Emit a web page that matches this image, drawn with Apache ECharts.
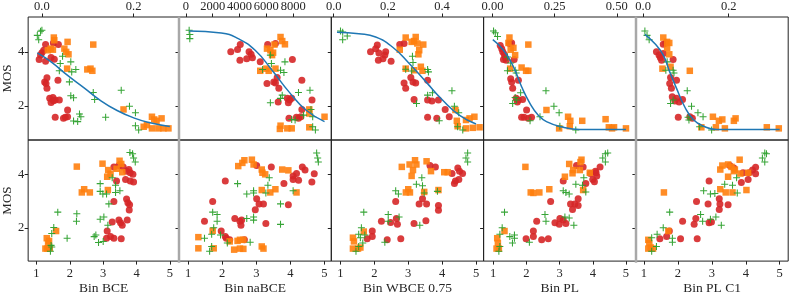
<!DOCTYPE html>
<html><head><meta charset="utf-8">
<script src="https://cdn.jsdelivr.net/npm/echarts@6/dist/echarts.min.js"></script>
<style>html,body{margin:0;padding:0;background:#fff}#c{width:789px;height:296px}</style>
</head><body><div id="c"></div>
<script>
// ---------- top row: raw metric vs MOS ----------
const t1Red=[[0.008,4.28],[0.004,4.07],[0.000,3.98],[-0.003,3.89],[-0.006,3.73],[0.008,3.66],[0.020,3.80],[0.027,3.74],[0.025,4.34],[0.036,4.28],[0.006,2.90],[0.009,2.84],[0.011,3.05],[0.011,2.66],[0.035,2.96],[0.017,2.29],[0.024,2.32],[0.020,2.14],[0.025,2.20],[0.029,2.23],[0.038,2.23],[0.056,1.86],[0.056,1.61],[0.051,1.59],[0.047,1.55],[0.029,1.59]];
const t1Orange=[[0.026,4.54],[0.027,4.44],[0.019,4.13],[0.013,4.07],[0.024,4.09],[0.049,4.13],[0.056,4.38],[0.058,3.92],[0.053,4.01],[0.055,3.39],[0.099,3.36],[0.106,3.39],[0.110,3.31],[0.112,4.28],[0.178,1.88],[0.240,1.61],[0.245,1.51],[0.250,1.46],[0.261,1.55],[0.222,1.24],[0.229,1.30],[0.240,1.18],[0.254,1.18],[0.265,1.18],[0.276,1.18]];
const t1Green=[[-0.010,4.62],[-0.007,4.46],[-0.003,4.77],[0.000,4.81],[0.040,3.58],[0.045,3.85],[0.063,3.64],[0.065,3.27],[0.074,3.36],[0.038,3.31],[0.060,2.90],[0.063,2.39],[0.069,2.31],[0.069,1.45],[0.078,1.43],[0.082,1.71],[0.085,1.61],[0.112,2.51],[0.115,2.25],[0.139,1.59],[0.173,2.59],[0.191,2.00],[0.204,1.76],[0.204,1.28],[0.211,1.12]];
const t1Fit=[[-0.010,3.97],[0.020,3.64],[0.056,3.14],[0.092,2.68],[0.128,2.21],[0.164,1.84],[0.200,1.57],[0.236,1.39],[0.279,1.25]];

const t2Red=[[3352,4.01],[3856,4.10],[4057,4.28],[4032,3.70],[4536,3.76],[4712,4.01],[4864,3.92],[4964,3.79],[5544,3.64],[6098,4.28],[6678,4.32],[7938,3.73],[6552,2.90],[6804,3.06],[6048,2.84],[6678,2.86],[6930,2.66],[8644,2.96],[7560,2.29],[7736,2.23],[7636,2.13],[7888,2.29],[6880,2.16],[9400,2.23],[8644,1.88],[8568,1.61],[8392,1.55],[7686,1.55],[8240,1.59]];
const t2Orange=[[7056,4.56],[7182,4.41],[7384,4.29],[6602,4.28],[6048,4.13],[6300,4.07],[6502,3.98],[6426,3.89],[5544,3.31],[5998,3.39],[6174,3.31],[6678,3.39],[9198,1.88],[9198,1.73],[10332,1.61],[7056,1.28],[7006,1.16],[7560,1.18],[7888,1.18],[9198,1.22]];
const t2Green=[[252,4.81],[302,4.65],[302,4.50],[6300,3.89],[6376,3.58],[7384,3.64],[7056,3.33],[7308,3.25],[5720,3.36],[7182,2.41],[7056,2.29],[6300,2.13],[8392,2.51],[9248,2.59],[9324,1.88],[8770,1.67],[9450,1.61],[8140,1.49],[7888,1.51],[9450,1.24],[9652,1.12]];
const t2Fit=[[252,4.78],[2646,4.71],[3906,4.50],[5166,4.07],[6426,3.33],[7686,2.53],[8946,1.86],[10332,1.43]];

const t3Red=[[0.161,4.26],[0.155,4.13],[0.136,4.01],[0.167,3.97],[0.192,4.01],[0.189,3.89],[0.182,3.76],[0.165,3.70],[0.212,3.66],[0.244,4.28],[0.260,4.32],[0.285,3.06],[0.293,2.90],[0.260,2.86],[0.266,2.66],[0.303,2.86],[0.347,2.96],[0.297,2.25],[0.347,2.23],[0.363,2.19],[0.387,2.23],[0.412,1.88],[0.427,1.61],[0.347,1.59],[0.381,1.55]];
const t3Orange=[[0.266,4.54],[0.303,4.56],[0.297,4.41],[0.288,4.38],[0.309,4.32],[0.331,4.28],[0.244,4.09],[0.316,4.07],[0.313,3.92],[0.266,3.39],[0.322,3.46],[0.328,3.31],[0.297,3.33],[0.450,1.86],[0.455,1.46],[0.489,1.49],[0.520,1.61],[0.502,1.55],[0.458,1.26],[0.489,1.18],[0.514,1.20],[0.539,1.22]];
const t3Green=[[0.025,4.78],[0.033,4.74],[0.050,4.60],[0.033,4.46],[0.291,3.85],[0.293,3.62],[0.266,3.37],[0.288,3.30],[0.347,3.36],[0.350,3.27],[0.347,2.41],[0.365,2.50],[0.306,2.10],[0.437,2.57],[0.446,2.00],[0.462,1.76],[0.390,1.46],[0.458,1.24],[0.477,1.12]];
const t3Fit=[[0.012,4.74],[0.093,4.68],[0.155,4.56],[0.217,4.19],[0.279,3.58],[0.341,2.90],[0.402,2.23],[0.464,1.67],[0.526,1.34]];

const t4Red=[[0.031,4.25],[0.037,4.13],[0.041,4.01],[0.047,3.92],[0.051,3.80],[0.055,3.70],[0.044,3.73],[0.068,4.32],[0.077,4.34],[0.087,3.73],[0.077,2.90],[0.073,3.02],[0.081,2.66],[0.104,2.96],[0.095,2.29],[0.100,2.16],[0.104,2.23],[0.121,2.25],[0.137,1.86],[0.117,1.59],[0.127,1.59],[0.144,1.55],[0.157,1.59]];
const t4Orange=[[0.068,4.54],[0.064,4.34],[0.084,4.16],[0.091,3.89],[0.073,4.09],[0.144,4.28],[0.071,3.39],[0.117,3.43],[0.135,3.31],[0.144,3.31],[0.217,1.86],[0.304,1.61],[0.313,1.46],[0.361,1.46],[0.455,1.52],[0.268,1.18],[0.311,1.26],[0.468,1.22],[0.481,1.18],[0.489,1.22],[0.537,1.18]];
const t4Green=[[0.004,4.78],[0.011,4.72],[0.020,4.58],[0.060,3.82],[0.073,3.60],[0.060,3.31],[0.091,3.33],[0.095,3.23],[0.113,2.50],[0.091,2.32],[0.097,2.23],[0.081,2.10],[0.215,2.57],[0.247,2.00],[0.268,1.76],[0.191,1.61],[0.151,1.46],[0.271,1.26],[0.335,1.12]];
const t4Fit=[[0.001,4.46],[0.044,4.07],[0.084,3.46],[0.117,2.72],[0.151,2.10],[0.184,1.67],[0.217,1.43],[0.284,1.22],[0.351,1.14],[0.537,1.14]];

const t5Red=[[0.047,4.29],[0.053,4.34],[0.031,4.01],[0.037,3.89],[0.040,3.80],[0.043,3.70],[0.070,3.73],[0.047,3.95],[0.064,3.06],[0.078,2.96],[0.062,2.84],[0.066,2.66],[0.068,2.35],[0.078,2.29],[0.084,2.16],[0.074,2.19],[0.092,2.25],[0.082,1.59],[0.109,1.61],[0.115,1.55]];
const t5Orange=[[0.047,4.54],[0.056,4.38],[0.061,4.34],[0.056,4.16],[0.061,3.92],[0.045,3.39],[0.064,3.46],[0.109,3.31],[0.163,1.61],[0.177,1.46],[0.185,1.51],[0.212,1.46],[0.216,1.55],[0.136,1.22],[0.170,1.22],[0.191,1.18],[0.289,1.22],[0.317,1.18]];
const t5Green=[[0.004,4.78],[0.009,4.62],[0.014,4.46],[0.056,3.64],[0.053,3.33],[0.070,3.33],[0.072,3.23],[0.103,2.57],[0.070,2.23],[0.064,2.10],[0.113,2.00],[0.128,1.76],[0.140,1.61],[0.107,1.49],[0.105,1.59],[0.132,1.24],[0.160,1.12]];
const t5Fit=[[0.004,4.66],[0.027,4.32],[0.047,3.89],[0.062,3.27],[0.078,2.66],[0.097,1.98],[0.117,1.51],[0.140,1.27],[0.171,1.14],[0.319,1.14]];

// ---------- bottom row: binned prediction vs MOS ----------
const b1Red=[[3.32,4.29],[3.47,4.34],[3.60,4.29],[3.77,4.19],[3.81,4.07],[3.89,4.01],[3.70,4.13],[3.40,3.76],[3.67,3.82],[3.81,3.76],[3.91,3.72],[3.32,2.99],[3.70,3.08],[3.74,2.94],[3.79,2.87],[3.78,2.67],[3.27,2.22],[3.47,2.29],[3.52,2.19],[3.57,2.10],[3.72,2.29],[3.12,1.88],[3.10,1.61],[3.22,1.67],[3.32,1.61],[3.54,1.59]];
const b1Orange=[[2.21,4.30],[2.98,4.41],[3.15,4.17],[3.12,3.92],[3.22,4.03],[3.49,4.52],[3.54,4.40],[3.57,4.09],[3.40,4.22],[2.43,3.45],[2.36,3.33],[2.60,3.33],[3.14,3.42],[1.59,1.88],[1.31,1.61],[1.35,1.43],[1.38,1.51],[1.27,1.22],[1.33,1.22],[1.40,1.24]];
const b1Green=[[3.80,4.83],[3.88,4.78],[3.91,4.62],[3.96,4.47],[2.91,3.66],[3.27,3.88],[3.37,3.60],[3.50,3.39],[2.91,3.37],[2.99,3.27],[3.10,3.27],[3.37,3.33],[3.17,2.90],[1.64,2.59],[2.21,2.53],[2.20,2.25],[2.91,2.32],[3.02,2.41],[3.14,2.10],[1.52,2.01],[1.46,1.79],[1.92,1.61],[2.73,1.67],[2.78,1.73],[2.86,1.45],[3.00,1.49],[1.44,1.34],[1.46,1.28],[1.42,1.12]];

const b2Red=[[2.09,3.76],[3.01,4.34],[3.44,4.29],[4.35,4.29],[4.43,4.17],[4.18,4.04],[4.08,3.95],[4.08,3.82],[4.24,3.79],[3.81,3.67],[4.63,3.72],[4.70,4.03],[3.01,3.09],[3.08,2.90],[3.21,2.90],[2.97,2.68],[3.94,2.87],[1.72,2.99],[1.48,2.25],[2.37,2.35],[2.52,2.25],[2.57,2.29],[2.55,2.10],[3.28,2.16],[1.97,1.88],[2.09,1.67],[2.12,1.61],[2.22,1.55],[2.65,1.55]];
const b2Orange=[[2.47,4.32],[2.59,4.44],[2.65,4.54],[2.87,4.56],[2.92,4.38],[3.16,4.19],[3.18,4.07],[3.26,4.01],[3.76,4.19],[3.94,4.16],[3.16,3.42],[3.41,3.33],[3.56,3.45],[4.18,3.33],[1.30,1.65],[1.72,1.89],[1.30,1.23],[1.75,1.23],[2.22,1.49],[2.45,1.51],[2.52,1.55],[2.62,1.55],[2.35,1.18],[2.52,1.22],[2.62,1.21],[3.16,1.30],[3.21,1.22]];
const b2Green=[[4.77,4.81],[4.80,4.62],[4.82,4.47],[2.45,3.66],[2.72,3.27],[2.92,3.39],[2.92,3.31],[3.28,3.31],[3.34,3.60],[3.38,3.88],[4.08,3.39],[3.71,2.90],[1.72,2.59],[1.85,2.50],[1.85,2.25],[2.72,2.35],[2.92,2.41],[2.92,2.29],[3.71,2.13],[1.75,2.00],[1.69,1.76],[1.95,1.73],[1.48,1.61],[2.15,1.43],[2.82,1.46],[1.69,1.30],[1.63,1.12]];

const b3Red=[[3.64,4.34],[3.80,4.29],[4.46,4.25],[4.51,4.13],[4.29,4.04],[4.39,3.76],[4.49,3.82],[4.60,4.04],[4.36,3.67],[3.42,3.09],[3.32,2.90],[3.54,2.90],[3.89,2.84],[3.89,2.66],[2.63,2.99],[2.21,2.25],[2.48,2.20],[2.65,2.35],[2.68,2.13],[3.17,2.16],[3.52,2.27],[1.94,1.88],[1.94,1.67],[1.79,1.59],[2.38,1.55],[2.78,1.59]];
const b3Orange=[[2.81,4.29],[3.04,4.38],[3.20,4.54],[3.24,4.38],[3.54,4.50],[3.14,4.17],[3.10,3.95],[3.67,4.13],[4.06,4.09],[4.16,4.09],[3.00,3.45],[2.93,3.33],[3.05,3.33],[3.47,3.35],[3.89,3.42],[1.69,1.86],[1.37,1.63],[1.40,1.49],[1.37,1.22],[1.52,1.22],[1.59,1.26]];
const b3Green=[[4.75,4.81],[4.70,4.62],[4.75,4.47],[2.63,3.39],[2.71,3.27],[3.24,3.64],[3.40,3.88],[3.42,3.58],[3.47,3.31],[3.86,3.37],[1.69,2.59],[2.41,2.50],[2.73,2.41],[2.41,2.25],[3.34,2.10],[1.62,2.00],[1.54,1.76],[1.59,1.63],[1.72,1.73],[2.31,1.46],[1.66,1.43],[1.54,1.30],[1.46,1.12]];

const b4Red=[[3.51,4.34],[3.71,4.29],[3.93,4.04],[4.08,4.13],[4.10,4.07],[4.22,4.29],[4.00,3.82],[4.05,3.73],[4.12,3.95],[3.79,3.67],[3.11,3.76],[2.73,2.99],[3.56,3.09],[3.33,2.90],[3.46,2.90],[3.56,2.84],[3.39,2.69],[2.31,2.25],[3.01,2.35],[3.11,2.29],[2.86,2.19],[2.99,2.13],[3.19,2.16],[2.21,1.88],[2.21,1.67],[1.99,1.59],[2.46,1.55],[2.66,1.59]];
const b4Orange=[[1.97,4.29],[3.29,4.40],[3.41,4.17],[3.39,4.05],[3.66,4.56],[3.63,4.47],[3.61,4.17],[3.16,3.92],[3.91,4.07],[2.13,3.33],[2.21,3.31],[2.39,3.33],[2.69,3.45],[3.71,3.42],[1.34,1.88],[1.12,1.61],[1.14,1.43],[1.10,1.22],[1.17,1.22]];
const b4Green=[[4.38,4.78],[4.45,4.81],[4.30,4.62],[4.38,4.47],[3.73,3.88],[3.49,3.64],[3.69,3.60],[3.79,3.35],[3.11,3.39],[3.19,3.33],[3.29,3.27],[1.34,2.59],[2.56,2.50],[2.59,2.25],[3.16,2.41],[3.29,2.37],[3.43,2.10],[1.27,2.00],[1.20,1.76],[1.50,1.67],[1.64,1.73],[1.64,1.61],[1.58,1.43],[2.09,1.46],[1.20,1.30],[1.17,1.12]];

const b5Red=[[3.53,4.34],[3.65,4.25],[4.29,4.28],[4.20,4.17],[4.10,4.07],[4.29,4.03],[4.07,3.82],[3.92,4.07],[3.87,3.70],[2.92,3.76],[3.22,3.09],[3.24,2.90],[3.22,2.69],[3.48,2.87],[2.55,2.99],[2.89,2.90],[2.14,2.25],[2.53,2.35],[2.48,2.13],[2.92,2.19],[2.99,2.22],[1.75,1.88],[1.67,1.67],[1.47,1.59],[2.08,1.59],[2.57,1.59]];
const b5Orange=[[3.25,4.19],[3.31,4.34],[3.48,4.38],[3.58,4.29],[3.68,4.19],[3.65,4.13],[3.82,4.56],[3.84,4.04],[3.48,3.92],[4.07,4.07],[1.59,3.33],[3.25,3.45],[3.41,3.33],[3.61,3.33],[4.02,3.42],[1.72,1.88],[1.13,1.55],[1.16,1.43],[1.13,1.22],[1.27,1.22],[1.20,1.26]];
const b5Green=[[4.61,4.78],[4.56,4.81],[4.49,4.62],[4.56,4.47],[3.73,3.88],[3.38,3.64],[3.61,3.60],[3.75,3.31],[2.76,3.39],[2.96,3.27],[3.09,3.29],[1.76,2.59],[2.67,2.50],[2.73,2.25],[2.96,2.32],[3.12,2.41],[3.28,2.10],[1.57,2.00],[1.23,1.63],[1.39,1.76],[1.84,1.61],[1.84,1.46],[1.37,1.30],[1.23,1.12]];

// ---------- axes ----------
const binNames=['Bin BCE','Bin naBCE','Bin WBCE 0.75','Bin PL','Bin PL C1'];
const topTicks=[[0,0.2],[0,2000,4000,6000,8000],[0,0.2,0.4],[0,0.25,0.5],[0,0.2]];
const topDigits=[1,0,1,2,1];
const topRange=[[-0.030,0.299],[-504,10836],[-0.009,0.554],[-0.036,0.577],[-0.017,0.339]];
const botTicks=[1,2,3,4,5];
const botRange=[[0.753,5.27],[0.732,5.20],[0.733,5.22],[0.71,5.30],[0.765,5.25]];
const yTicks=[2,4];
const yRange=[0.75,5.3];

const topData=[[t1Red,t1Orange,t1Green,t1Fit],[t2Red,t2Orange,t2Green,t2Fit],[t3Red,t3Orange,t3Green,t3Fit],[t4Red,t4Orange,t4Green,t4Fit],[t5Red,t5Orange,t5Green,t5Fit]];
const botData=[[b1Red,b1Orange,b1Green],[b2Red,b2Orange,b2Green],[b3Red,b3Orange,b3Green],[b4Red,b4Orange,b4Green],[b5Red,b5Orange,b5Green]];

const FONT="'Liberation Serif','DejaVu Serif',serif";
const TXT='#262626';
const colLeft=26.7, colW=152.3;
const rows=[{top:16.7,h:123.3},{top:140,h:122.7}];
const PLUS='path://M0,4.25H10V5.75H0Z M4.25,0H5.75V10H4.25Z';

const grid=[],xAxis=[],yAxis=[],series=[];
for(let r=0;r<2;r++){
  for(let c=0;c<5;c++){
    const gi=r*5+c;
    grid.push({left:colLeft+c*colW,top:rows[r].top,width:colW,height:rows[r].h,show:true,borderColor:'#222',borderWidth:1,backgroundColor:'transparent'});
    if(r===0){
      xAxis.push({gridIndex:gi,type:'value',position:'top',min:topRange[c][0],max:topRange[c][1],
        axisLine:{show:false,onZero:false},splitLine:{show:false},
        axisTick:{show:true,customValues:topTicks[c],length:3.5,lineStyle:{color:'#222'}},
        axisLabel:{customValues:topTicks[c],formatter:(v)=>Number(v).toFixed(topDigits[c]),margin:4,fontSize:12.5,color:TXT,fontFamily:FONT,hideOverlap:false}});
    }else{
      xAxis.push({gridIndex:gi,type:'value',position:'bottom',min:botRange[c][0],max:botRange[c][1],
        name:binNames[c],nameLocation:'middle',nameGap:15,nameTextStyle:{fontSize:13.5,color:TXT,fontFamily:FONT},
        axisLine:{show:false,onZero:false},splitLine:{show:false},
        axisTick:{show:true,customValues:botTicks,length:3.5,lineStyle:{color:'#222'}},
        axisLabel:{customValues:botTicks,formatter:(v)=>String(Math.round(v)),margin:6,fontSize:12.5,color:TXT,fontFamily:FONT}});
    }
    yAxis.push({gridIndex:gi,type:'value',min:yRange[0],max:yRange[1],
      name:c===0?'MOS':'',nameLocation:'middle',nameGap:11,nameTextStyle:{fontSize:13,color:TXT,fontFamily:FONT},
      axisLine:{show:false,onZero:false},splitLine:{show:false},
      axisTick:{show:true,customValues:yTicks,length:3.5,lineStyle:{color:'#222'}},
      axisLabel:{show:c===0,customValues:yTicks,formatter:(v)=>String(Math.round(v)),margin:4,fontSize:12.5,color:TXT,fontFamily:FONT}});
    const d=r===0?topData[c]:botData[c];
    series.push({type:'scatter',xAxisIndex:gi,yAxisIndex:gi,data:d[0],symbol:'circle',symbolSize:7,itemStyle:{color:'#d62728',opacity:0.9},silent:true});
    series.push({type:'scatter',xAxisIndex:gi,yAxisIndex:gi,data:d[1],symbol:'rect',symbolSize:6.5,itemStyle:{color:'#ff7f0e',opacity:0.9},silent:true});
    series.push({type:'scatter',xAxisIndex:gi,yAxisIndex:gi,data:d[2],symbol:PLUS,symbolSize:7,itemStyle:{color:'#2ca02c',opacity:0.95},silent:true});
    if(r===0){
      series.push({type:'line',xAxisIndex:gi,yAxisIndex:gi,data:d[3],smooth:0.5,showSymbol:false,lineStyle:{color:'#1f77b4',width:1.5},z:5,silent:true});
    }
  }
}

const chart=echarts.init(document.getElementById('c'),null,{renderer:'canvas'});
chart.setOption({
  animation:false,
  grid,xAxis,yAxis,series,
  graphic:[
    {type:'line',shape:{x1:179,y1:16.7,x2:179,y2:262.7},style:{stroke:'#a8a8a8',lineWidth:2.5},z:100},
    {type:'line',shape:{x1:636,y1:16.7,x2:636,y2:262.7},style:{stroke:'#a8a8a8',lineWidth:2.5},z:100}
  ]
});
</script></body></html>
